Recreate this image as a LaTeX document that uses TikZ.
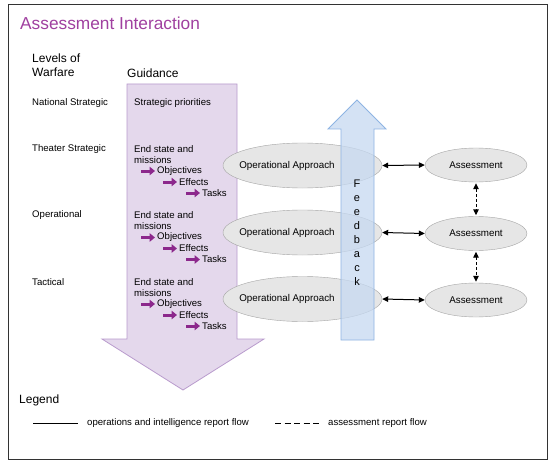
\documentclass[tikz,border=0pt]{standalone}
\usepackage{fontspec}
\setmainfont{Liberation Sans}
\usetikzlibrary{arrows.meta,shapes.geometric}
\definecolor{titlepurple}{RGB}{160,64,160}
\definecolor{arrowmag}{RGB}{140,40,140}
\definecolor{guidefill}{RGB}{228,216,236}
\definecolor{guideline}{RGB}{185,155,205}
\definecolor{fbfill}{RGB}{198,217,241}
\definecolor{fbline}{RGB}{142,180,227}
\definecolor{ellfill}{RGB}{230,230,230}
\definecolor{ellline}{RGB}{165,165,165}
\tikzset{
  small/.style={font=\fontsize{9.6}{11}\selectfont, inner sep=0pt, anchor=west},
  head/.style={font=\fontsize{12}{13.5}\selectfont, inner sep=0pt, anchor=west, align=left},
  opell/.style={ellipse, draw=ellline, fill=ellfill, minimum width=159pt, minimum height=45pt, inner sep=0pt, font=\fontsize{9.8}{11}\selectfont},
  asell/.style={ellipse, draw=ellline, fill=ellfill, minimum width=102pt, minimum height=34pt, inner sep=0pt, font=\fontsize{9.8}{11}\selectfont},
  magarrow/.style={arrowmag, line width=3pt, -{Triangle[length=5.5pt,width=8.5pt]}},
  link/.style={black, line width=1pt, {Triangle[length=6pt,width=5.5pt]}-{Triangle[length=6pt,width=5.5pt]}},
  dlink/.style={link, dash pattern=on 3pt off 2pt},
}
\begin{document}
\begin{tikzpicture}[x=1pt,y=-1pt]
\useasboundingbox (0,0) rectangle (554,468);
\fill[white] (0,0) rectangle (554,468);
\draw[line width=1pt, black!80] (8,5) rectangle (547,459);
\node[inner sep=0pt, anchor=west, text=titlepurple, font=\fontsize{17.3}{19}\selectfont] (title) at (20,23) {Assessment Interaction};

\node[head] (levels) at (32,65) {Levels of\\Warfare};
\node[head] (guid) at (127,73) {Guidance};

% guidance arrow
\draw[guideline, fill=guidefill, line width=0.8pt] (127,84) -- (237,84) -- (237,339) -- (264,339) -- (183,390) -- (102,339) -- (127,339) -- cycle;

\node[small] (ns) at (32,103) {National Strategic};
\node[small] (sp) at (134,103) {Strategic priorities};

\foreach \y/\lev/\nm in {149/Theater Strategic/a, 215.5/Operational/b, 282/Tactical/c}{
  \node[small] (lev\nm) at (32,\y) {\lev};
  \node[small] (es\nm) at (134,\y) {End state and};
  \node[small] (mi\nm) at (134,\y+11) {missions};
  \node[small] (ob\nm) at (157,\y+22) {Objectives};
  \node[small] (ef\nm) at (179,\y+33) {Effects};
  \node[small] (ta\nm) at (202,\y+44) {Tasks};
  \draw[magarrow] ([xshift=-16pt]ob\nm.west) -- ([xshift=-2pt]ob\nm.west);
  \draw[magarrow] ([xshift=-16pt]ef\nm.west) -- ([xshift=-2pt]ef\nm.west);
  \draw[magarrow] ([xshift=-16pt]ta\nm.west) -- ([xshift=-2pt]ta\nm.west);
}

% operational approach ellipses
\node[opell] (opa) at (302.5,165.5) {\hspace*{-31pt}Operational Approach};
\node[opell] (opb) at (302.5,232.5) {\hspace*{-31pt}Operational Approach};
\node[opell] (opc) at (302.5,299) {\hspace*{-31pt}Operational Approach};

% feedback arrow
\draw[fbline, fill=fbfill, fill opacity=0.75, line width=0.8pt] (341,340) -- (341,129) -- (328,129) -- (357,100) -- (386,129) -- (374,129) -- (374,340) -- cycle;
\node[inner sep=0pt, align=center, font=\fontsize{11}{14}\selectfont] (fb) at (357,233) {F\\e\\e\\d\\b\\a\\c\\k};

% assessment ellipses
\node[asell] (asa) at (476,165) {Assessment};
\node[asell] (asb) at (476,233.5) {Assessment};
\node[asell] (asc) at (476,300) {Assessment};

\draw[link] (opa.east) -- (asa.west);
\draw[link] (opb.east) -- (asb.west);
\draw[link] (opc.east) -- (asc.west);
\draw[dlink] ([yshift=-1pt]asa.south) -- ([yshift=1pt]asb.north);
\draw[dlink] ([yshift=-1pt]asb.south) -- ([yshift=1pt]asc.north);

% legend
\node[head] (leg) at (19,400) {Legend};
\coordinate (l1a) at (33,423);
\coordinate (l1b) at (78,423);
\draw[black, line width=1pt] (l1a) -- (l1b);
\node[small] (l1t) at (87,423) {operations and intelligence report flow};
\coordinate (l2a) at (275,423);
\coordinate (l2b) at (319,423);
\draw[black, line width=1pt, dash pattern=on 6pt off 3.5pt] (l2a) -- (l2b);
\node[small] (l2t) at (328,423) {assessment report flow};
\end{tikzpicture}
\end{document}
